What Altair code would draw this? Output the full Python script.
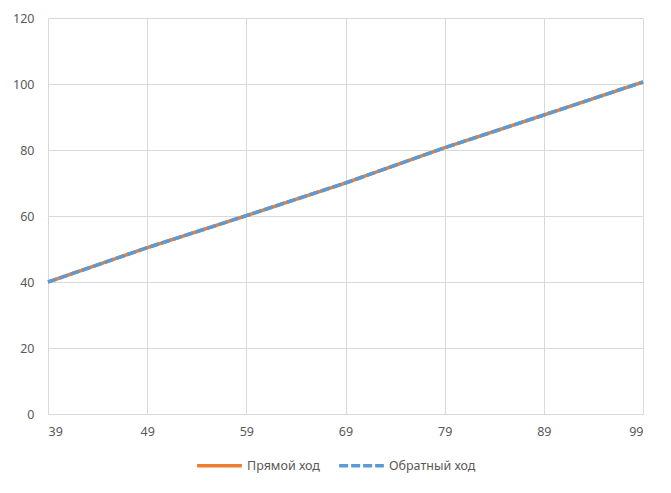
import altair as alt
import pandas as pd

x_vals = [39, 49, 59, 69, 79, 89, 99]
forward = [40.0, 50.4, 60.1, 70.0, 80.7, 90.6, 100.6]
backward = [40.0, 50.4, 60.1, 70.0, 80.7, 90.6, 100.6]
series_names = ["Прямой ход", "Обратный ход"]
colors = ["#ED7D31", "#5B9BD5"]
x_ticks = [39, 49, 59, 69, 79, 89, 99]
y_ticks = [0, 20, 40, 60, 80, 100, 120]

rows = []
for xv, f in zip(x_vals, forward):
    rows.append({"x": xv, "y": f, "s": series_names[0]})
for xv, b in zip(x_vals, backward):
    rows.append({"x": xv, "y": b, "s": series_names[1]})
df = pd.DataFrame(rows)

font = "Noto Sans"
label_color = "#595959"
grid_color = "#D9D9D9"

xenc = alt.X("x:Q", scale=alt.Scale(domain=[39, 99], nice=False, zero=False),
             axis=alt.Axis(values=x_ticks, title=None, grid=True, gridColor=grid_color,
                           domainColor=grid_color, ticks=False, labelPadding=11,
                           labelFont=font, labelFontSize=12.5, labelColor=label_color))
yenc = alt.Y("y:Q", scale=alt.Scale(domain=[0, 120], nice=False),
             axis=alt.Axis(values=y_ticks, title=None, grid=True, gridColor=grid_color,
                           domain=False, ticks=False, labelPadding=14,
                           labelFont=font, labelFontSize=12.5, labelColor=label_color))
leg = dict(title=None, orient="none", direction="horizontal",
           legendX=147, legendY=423, symbolType="stroke",
           symbolSize=2000, symbolStrokeWidth=3.5,
           labelFont=font, labelFontSize=12.5, labelColor=label_color,
           columnPadding=12, labelOffset=3)
color = alt.Color("s:N", scale=alt.Scale(domain=series_names, range=colors),
                  legend=alt.Legend(**leg))
dash = alt.StrokeDash("s:N", scale=alt.Scale(domain=series_names, range=[[1, 0], [9, 3]]),
                      legend=alt.Legend(**leg))

base = alt.Chart(df).encode(x=xenc, y=yenc, color=color, strokeDash=dash)
l1 = base.transform_filter(alt.datum.s == series_names[0]).mark_line(strokeWidth=3.5)
l2 = base.transform_filter(alt.datum.s == series_names[1]).mark_line(strokeWidth=3.5)

chart = alt.layer(l1, l2).properties(
    width=595, height=396,
    autosize=alt.AutoSizeParams(type="none"),
    padding={"left": 40, "top": 10, "right": 20, "bottom": 72},
    background="white",
).configure_view(stroke=None)

chart.save("out.html", embed_options={"renderer": "svg", "actions": False})
